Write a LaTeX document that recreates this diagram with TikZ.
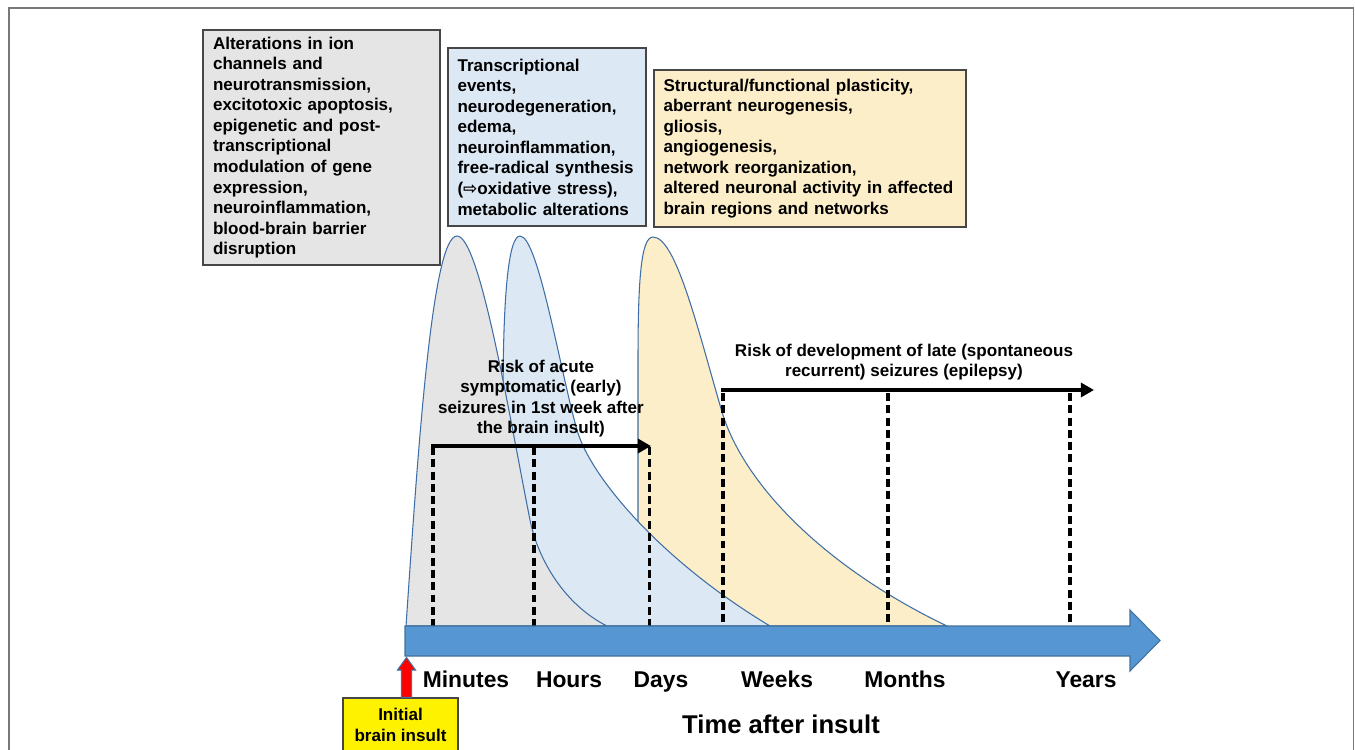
\documentclass[tikz,border=0pt]{standalone}
\usepackage{fontspec}
\setmainfont{Liberation Sans}
\newfontfamily\arrowfont{DejaVu Sans}
\usetikzlibrary{arrows.meta}
\definecolor{curveline}{RGB}{62,110,165}
\definecolor{grayfill}{RGB}{229,229,229}
\definecolor{bluefill}{RGB}{220,233,245}
\definecolor{yellowfill}{RGB}{253,238,202}
\definecolor{barblue}{RGB}{86,150,211}
\definecolor{barline}{RGB}{65,113,156}
\definecolor{boxline}{RGB}{70,70,70}
\definecolor{frameline}{RGB}{120,120,120}
\begin{document}
\begin{tikzpicture}[x=0.02cm,y=-0.02cm,
  infobox/.style={draw=boxline, line width=0.8pt, align=left, inner xsep=0pt, inner ysep=0pt,
    font=\fontsize{9.7}{11.7}\selectfont\bfseries},
  risklabel/.style={align=center, inner sep=0pt, font=\fontsize{9.7}{11.7}\selectfont\bfseries},
  axislabel/.style={inner sep=0pt, anchor=base, font=\fontsize{13}{15}\selectfont\bfseries},
  phase/.style={draw=curveline, line width=0.6pt},
  dashmark/.style={line width=2pt, dash pattern=on 4.5pt off 2.5pt},
  riskarrow/.style={line width=2.4pt, -{Triangle[length=7.5pt,width=8pt]}},
]
\useasboundingbox (0,0) rectangle (1355,750);
\clip (0,0) rectangle (1355,750);

% outer frame
\draw[frameline, line width=1pt] (9,8) rectangle (1353.5,790);

% phase curves (yellow bottom, blue middle, gray top)
\filldraw[phase, fill=yellowfill] (638,626) -- (638,360) .. controls (638,280) and (641,237) .. (653,237)
  .. controls (676,237) and (698,330) .. (722,412)
  .. controls (745,488) and (830,570) .. (947,626) -- cycle;
\filldraw[phase, fill=bluefill] (503,626) -- (503,400) .. controls (503,300) and (508,236) .. (520,236)
  .. controls (538,236) and (560,370) .. (577,430)
  .. controls (590,476) and (660,560) .. (770,626) -- cycle;
\filldraw[phase, fill=grayfill] (406,626) .. controls (418,450) and (432,236) .. (457,236)
  .. controls (480,236) and (510,420) .. (530,520)
  .. controls (538,560) and (565,605) .. (607,626) -- cycle;

% info boxes
\node[infobox, fill=grayfill, minimum width=4.74cm, minimum height=4.70cm, text width=4.34cm] (acute) at (321.5,147.5)
  {Alterations in ion\\channels and\\neurotransmission,\\excitotoxic apoptosis,\\epigenetic and post-\\transcriptional\\modulation of gene\\expression,\\neuroinflammation,\\blood-brain barrier\\disruption};
\node[infobox, fill=bluefill, minimum width=3.96cm, minimum height=3.56cm, text width=3.58cm] (subacute) at (547,137)
  {Transcriptional\\events,\\neurodegeneration,\\edema,\\neuroinflammation,\\free-radical synthesis\\({\arrowfont ⇨}oxidative stress),\\metabolic alterations};
\node[infobox, fill=yellowfill, minimum width=6.24cm, minimum height=3.14cm, text width=5.86cm] (chronic) at (810,148.5)
  {Structural/functional plasticity,\\aberrant neurogenesis,\\gliosis,\\angiogenesis,\\network reorganization,\\altered neuronal activity in affected\\brain regions and networks};

% dashed time markers
\coordinate (mTop) at (433,447);   \coordinate (mBot) at (433,626);
\coordinate (hTop) at (534,447);   \coordinate (hBot) at (534,626);
\coordinate (dTop) at (649.5,447); \coordinate (dBot) at (649.5,626);
\coordinate (wTop) at (723,393);   \coordinate (wBot) at (723,626);
\coordinate (moTop) at (888,393);  \coordinate (moBot) at (888,626);
\coordinate (yTop) at (1070,393);  \coordinate (yBot) at (1070,626);
\foreach \a/\b in {mTop/mBot,hTop/hBot,dTop/dBot,wTop/wBot,moTop/moBot,yTop/yBot}
  \draw[dashmark] (\a) -- (\b);

% risk arrows
\coordinate (earlyStart) at (431,446);
\coordinate (earlyEnd) at (651,446);
\coordinate (lateStart) at (721,390);
\coordinate (lateEnd) at (1094,390);
\draw[riskarrow] (earlyStart) -- (earlyEnd);
\draw[riskarrow] (lateStart) -- (lateEnd);

\node[risklabel] (earlylabel) at (541,398.5)
  {Risk of acute\\symptomatic (early)\\seizures in 1st week after\\the brain insult)};
\node[risklabel] (latelabel) at (904,362)
  {Risk of development of late (spontaneous\\recurrent) seizures (epilepsy)};

% time axis
\filldraw[fill=barblue, draw=barline, line width=0.6pt]
  (405,626) -- (1130,626) -- (1130,610) -- (1160,640.5) -- (1130,671) -- (1130,656) -- (405,656) -- cycle;

\node[axislabel] (minutes) at (466,687) {Minutes};
\node[axislabel] (hours) at (569,687) {Hours};
\node[axislabel] (days) at (661,687) {Days};
\node[axislabel] (weeks) at (777,687) {Weeks};
\node[axislabel] (months) at (905,687) {Months};
\node[axislabel] (years) at (1086,687) {Years};
\node[inner sep=0pt, anchor=base, font=\fontsize{14.6}{17}\selectfont\bfseries] (timelabel) at (781,733) {Time after insult};

% initial insult
\node[draw=boxline, fill=yellow, line width=0.8pt, minimum width=2.3cm, minimum height=1.08cm, inner sep=0pt,
  align=center, font=\fontsize{9.7}{11.5}\selectfont\bfseries] (insult) at (400.5,725)
  {Initial\\brain insult};
\filldraw[fill=red, draw=barline, line width=0.6pt]
  (401.5,697.5) -- (401.5,670) -- (397.5,670) -- (406.5,657.5) -- (415.5,670) -- (411.5,670) -- (411.5,697.5) -- cycle;
\end{tikzpicture}
\end{document}
